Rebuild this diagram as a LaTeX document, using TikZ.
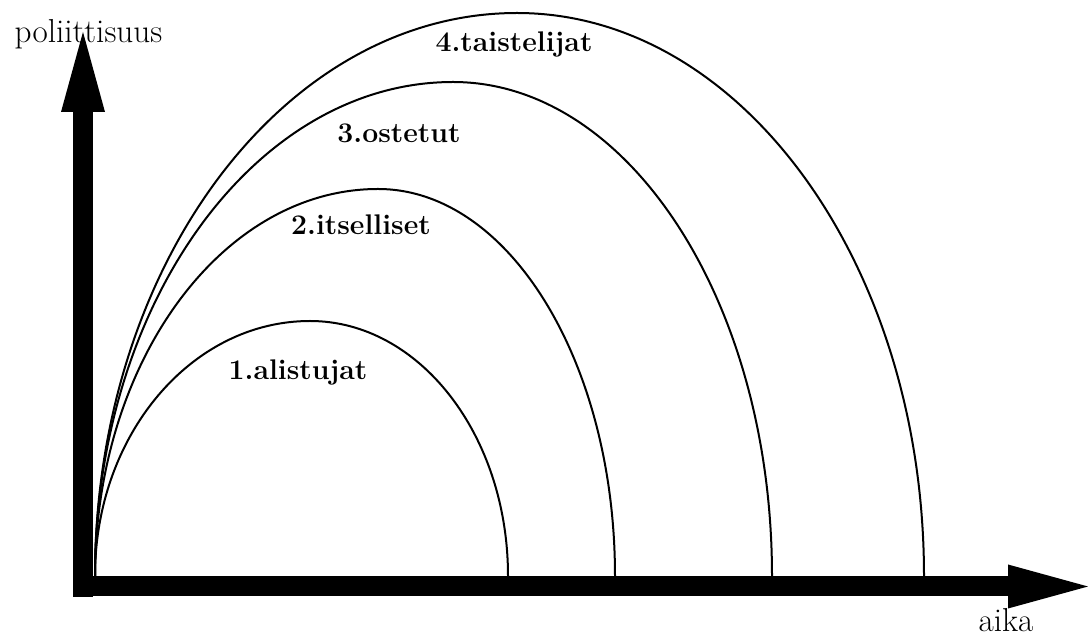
\documentclass[tikz,border=0pt]{standalone}
\usetikzlibrary{arrows.meta}
\tikzset{
  axis/.style  = {line width=10pt, line cap=butt,
                 -{Triangle[length=40pt, width=22pt, line width=0pt]}},
  curve/.style = {line width=1pt},
  lab/.style   = {font=\fontsize{16.6}{19}\selectfont, inner sep=0pt, anchor=base},
  group/.style = {font=\fontsize{14.2}{17}\bfseries\selectfont, inner sep=0pt, anchor=base},
}

\begin{document}
\begin{tikzpicture}[x=0.5pt, y=0.5pt]
  \useasboundingbox (0,0) rectangle (1088,637);

  % ---- axes ----
  \coordinate (origin) at (83,40);
  \coordinate (ytip)   at (83,605);
  \coordinate (xstart) at (73,50.5);
  \coordinate (xtip)   at (1088,50.5);
  \draw[axis] (origin) -- (ytip);
  \draw[axis] (xstart) -- (xtip);
  \node[lab] (ylab) at (88.5,594) {poliittisuus};
  \node[lab] (xlab) at (1006,5)   {aika};

  % ---- curves from the common start ----
  \coordinate (start) at (95,61);
  \draw[curve] (start) arc[start angle=180, end angle=90, x radius=107.5pt, y radius=127.5pt]
                       arc[start angle=90, end angle=0, x radius=99pt, y radius=127.5pt];
  \draw[curve] (start) arc[start angle=180, end angle=90, x radius=141.5pt, y radius=193.5pt]
                       arc[start angle=90, end angle=0, x radius=118.5pt, y radius=193.5pt];
  \draw[curve] (start) arc[start angle=180, end angle=90, x radius=179pt, y radius=247pt]
                       arc[start angle=90, end angle=0, x radius=159.5pt, y radius=247pt];
  \draw[curve] (start) arc[start angle=180, end angle=90, x radius=211pt, y radius=281.5pt]
                       arc[start angle=90, end angle=0, x radius=203.5pt, y radius=281.5pt];

  % ---- group labels ----
  \node[group] (g1) at (298,257) {1.alistujat};
  \node[group] (g2) at (361,402) {2.itselliset};
  \node[group] (g3) at (399,494) {3.ostetut};
  \node[group] (g4) at (514,585) {4.taistelijat};
\end{tikzpicture}
\end{document}
